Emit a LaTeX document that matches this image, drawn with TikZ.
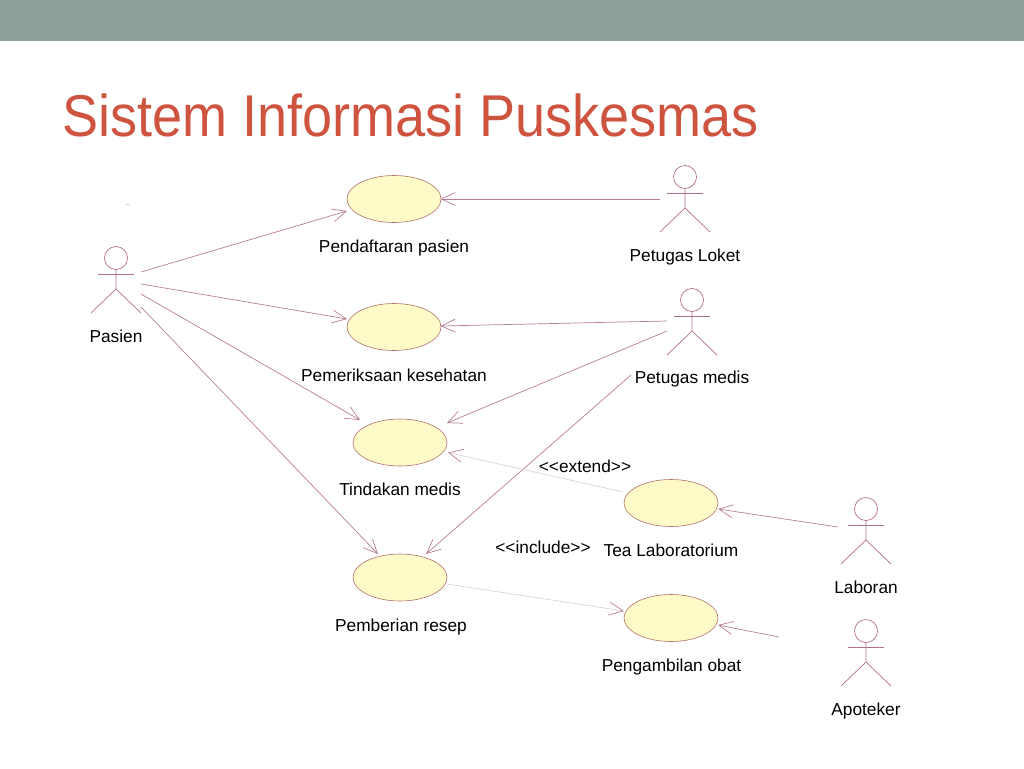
\documentclass[tikz,border=0pt]{standalone}
\usepackage{fontspec}
\setmainfont{Liberation Sans}[Ligatures=NoCommon]
\usetikzlibrary{arrows.meta,shapes.geometric}
\definecolor{barcol}{HTML}{8F9F99}
\definecolor{titlecol}{HTML}{CF543F}
\definecolor{linecol}{HTML}{B77F97}
\definecolor{palecol}{HTML}{E2CFD6}
\definecolor{ucfill}{HTML}{FFFBC9}
\definecolor{ucline}{HTML}{B0706C}
\definecolor{actcol}{HTML}{B0708A}
\tikzset{
  x=1pt,y=-1pt,
  usecase/.style={ellipse,draw=ucline,fill=ucfill,line width=0.6pt,minimum width=94pt,minimum height=47pt,inner sep=0pt},
  label text/.style={font=\fontsize{17.3}{19}\selectfont,text=black,inner sep=0pt,anchor=base},
  assoc/.style={draw=linecol,line width=0.7pt,-{Straight Barb[length=14pt,width=13pt,line width=0.7pt]}},
  faint/.style={draw=palecol,line width=0.7pt,-{Straight Barb[length=14pt,width=13pt,line width=0.7pt,color=linecol]}},
  actorline/.style={draw=actcol,line width=0.7pt},
  actor head/.style={circle,draw=actcol,line width=0.7pt,minimum size=23pt,inner sep=0pt},
  stick/.pic={
    \draw[actorline] (-18,16) -- (18,16);
    \draw[actorline] (0,11.5) -- (0,31) -- (-25,55);
    \draw[actorline] (0,31) -- (25,55);
  }
}
\begin{document}
\begin{tikzpicture}
\useasboundingbox (0,0) rectangle (1024,768);
\fill[white] (0,0) rectangle (1024,768);
\fill[barcol] (0,0) rectangle (1024,41);
\node[anchor=base west,inner sep=0pt,text=titlecol,font=\fontsize{59}{64}\selectfont,xscale=0.916,transform shape] (title) at (62,136) {Sistem Informasi Puskesmas};

% small mark
\draw[linecol!60,line width=0.5pt] (125.5,204) -- (130,205);

% use cases
\node[usecase] (uc1) at (394,199) {};
\node[usecase] (uc2) at (394,327) {};
\node[usecase] (uc3) at (400,442.5) {};
\node[usecase] (uc4) at (400,577.5) {};
\node[usecase] (uc5) at (671,503) {};
\node[usecase] (uc6) at (671,618) {};

\node[label text] (l1) at (394,252) {Pendaftaran pasien};
\node[label text] (l2) at (394,381) {Pemeriksaan kesehatan};
\node[label text] (l3) at (400,495) {Tindakan medis};
\node[label text] (l4) at (401,631) {Pemberian resep};
\node[label text] (l5) at (671,556) {Tea Laboratorium};
\node[label text] (l6) at (671.5,671) {Pengambilan obat};
\node[label text] (ext) at (585,472.5) {<{}<extend>{}>};
\node[label text] (inc) at (543,553) {<{}<include>{}>};

% actors
\node[actor head] (a1) at (116,258) {};
\pic at (116,258) {stick};
\node[label text] (n1) at (116,342) {Pasien};
\node[actor head] (a2) at (685,177) {};
\pic at (685,177) {stick};
\node[label text] (n2) at (685,261) {Petugas Loket};
\node[actor head] (a3) at (692,300) {};
\pic at (692,300) {stick};
\node[label text] (n3) at (692,383) {Petugas medis};
\node[actor head] (a4) at (866,509) {};
\pic at (866,509) {stick};
\node[label text] (n4) at (866,593) {Laboran};
\node[actor head] (a5) at (866,631) {};
\pic at (866,631) {stick};
\node[label text] (n5) at (866,715) {Apoteker};

% free ends
\coordinate (p1) at (141,272);
\coordinate (p2) at (141,284);
\coordinate (p3) at (141,294);
\coordinate (p4) at (141,307);
\coordinate (k1) at (660,199);
\coordinate (m1) at (667,321);
\coordinate (m2) at (667,331);
\coordinate (m3) at (631,375);
\coordinate (lb) at (838,527);
\coordinate (ap) at (779,637);

% connectors
\draw[assoc] (p1) -- ([shift={(-47,12)}]uc1.center);
\draw[assoc] (p2) -- ([shift={(-47,-8)}]uc2.center);
\draw[assoc] (p3) -- ([shift={(-40,-22.5)}]uc3.center);
\draw[assoc] (p4) -- ([shift={(-22,-23.5)}]uc4.center);
\draw[assoc] (k1) -- ([shift={(46.5,0)}]uc1.center);
\draw[assoc] (m1) -- ([shift={(46.5,-1)}]uc2.center);
\draw[assoc] (m2) -- ([shift={(47,-19.5)}]uc3.center);
\draw[assoc] (m3) -- ([shift={(26,-23.5)}]uc4.center);
\draw[assoc] (lb) -- ([shift={(47,6)}]uc5.center);
\draw[assoc] (ap) -- ([shift={(47,7)}]uc6.center);
\draw[faint] ([shift={(-48,-11)}]uc5.center) -- ([shift={(48,10)}]uc3.center);
\draw[faint] ([shift={(47,6.5)}]uc4.center) -- ([shift={(-47,-7)}]uc6.center);
\end{tikzpicture}
\end{document}
